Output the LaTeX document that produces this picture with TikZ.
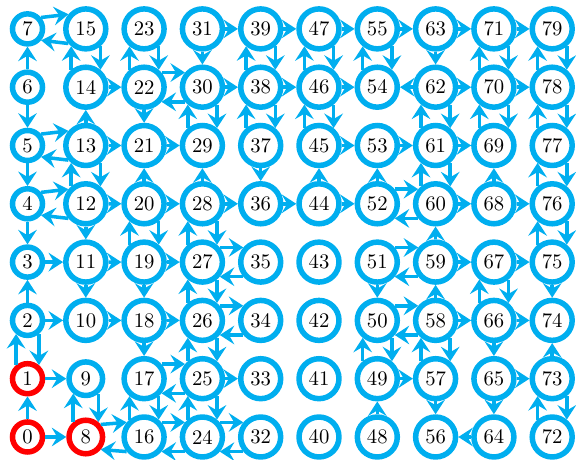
\documentclass[tikz,border=0pt]{standalone}
\usetikzlibrary{arrows.meta}
\definecolor{cb}{RGB}{0,174,239}
\definecolor{rd}{RGB}{255,0,0}
\begin{document}
\begin{tikzpicture}[x=0.4831pt,y=0.4831pt,
  nd/.style={circle,draw=cb,line width=2.66pt,inner sep=0pt,minimum size=19.3pt,font=\fontsize{10}{12}\selectfont},
  sm/.style={minimum size=14.5pt},
  md/.style={minimum size=16.2pt},
  rn/.style={draw=rd},
  arr/.style={draw=cb,line width=1.7pt,-{Stealth[length=7pt,width=9pt,inset=2.6pt]}}]
\useasboundingbox (0,0) rectangle (576,460);
% column 0
\node[nd,sm,rn] (n0) at (27.5,23) {0};
\node[nd,sm,rn] (n1) at (27.5,81.3) {1};
\node[nd,sm] (n2) at (27.5,139.6) {2};
\node[nd,sm] (n3) at (27.5,197.9) {3};
\node[nd,sm] (n4) at (27.5,256.2) {4};
\node[nd,sm] (n5) at (27.5,314.5) {5};
\node[nd,sm] (n6) at (27.5,372.8) {6};
\node[nd,sm] (n7) at (27.5,431.1) {7};
% column 1
\node[nd,md,rn] (n8) at (85.8,23) {8};
\node[nd,md] (n9) at (85.8,81.3) {9};
\node[nd] (n10) at (85.8,139.6) {10};
\node[nd] (n11) at (85.8,197.9) {11};
\node[nd] (n12) at (85.8,256.2) {12};
\node[nd] (n13) at (85.8,314.5) {13};
\node[nd] (n14) at (85.8,372.8) {14};
\node[nd] (n15) at (85.8,431.1) {15};
% columns 2..9
\foreach \c in {2,...,9}{
  \foreach \r in {0,...,7}{
    \pgfmathtruncatemacro\n{8*\c+\r}
    \node[nd] (n\n) at ({27.5+58.3*\c},{23+58.3*\r}) {\n};
  }
}
% one-way connectors
\foreach \a/\b in {0/8,1/9,2/10,3/11,10/18,11/19,12/20,13/21,14/22,18/26,19/27,20/28,21/29,25/33,28/36,30/38,31/39,36/44,38/46,39/47,44/52,45/53,46/54,47/55,49/57,53/61,55/63,58/66,59/67,60/68,61/69,62/70,63/71,65/73,66/74,67/75,68/76,70/78,71/79,62/54,64/56,
  0/1,2/3,4/3,5/4,6/5,6/7,11/10,12/11,13/14,18/17,19/18,20/21,22/21,28/29,31/30,37/36,44/45,48/49,51/50,52/53,57/56,58/59,59/60,63/62,65/64,66/65,68/69,73/74,75/74}
  \draw[arr] (n\a) -- (n\b);
% two-way, horizontal (a left of b)
\foreach \a/\b in {7/15,5/13,4/12,8/16,16/24,17/25,22/30,24/32,26/34,27/35,50/58,51/59,52/60}{
  \draw[arr] (n\a.40) -- (n\b.140);
  \draw[arr] (n\b.220) -- (n\a.320);
}
% two-way, vertical (a below b)
\foreach \a/\b in {1/2,8/9,14/15,12/13,16/17,19/20,22/23,24/25,25/26,26/27,27/28,29/30,37/38,38/39,45/46,46/47,49/50,54/55,57/58,60/61,61/62,66/67,69/70,70/71,72/73,75/76,76/77,77/78,78/79}{
  \draw[arr] (n\a.130) -- (n\b.230);
  \draw[arr] (n\b.310) -- (n\a.50);
}
\end{tikzpicture}
\end{document}
